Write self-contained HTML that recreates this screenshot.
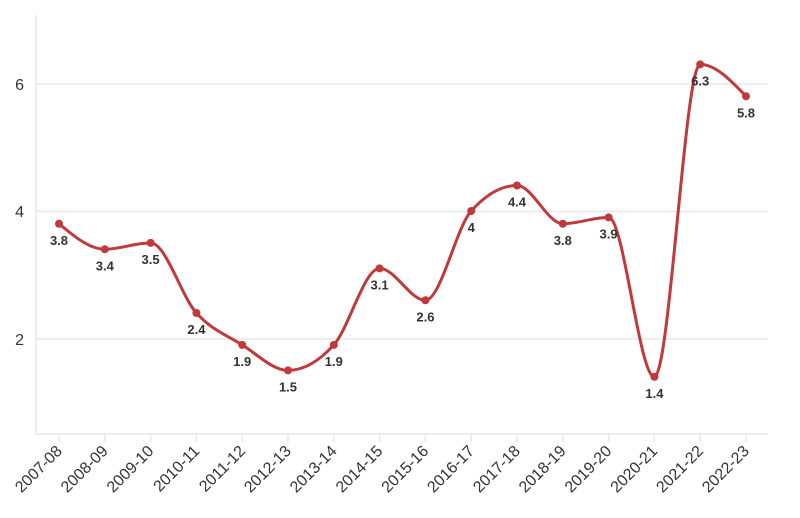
<!DOCTYPE html>
<html><head><meta charset="utf-8"><style>
html,body{margin:0;padding:0;background:#fff;}
svg{display:block;font-family:"Liberation Sans",sans-serif;}
</style></head><body>
<svg id="s" width="800" height="518" xmlns="http://www.w3.org/2000/svg">
<g stroke="#e8e8e8" stroke-width="1.5">
<line x1="36" y1="84" x2="768" y2="84"/>
<line x1="36" y1="211.5" x2="768" y2="211.5"/>
<line x1="36" y1="339" x2="768" y2="339"/>
<line x1="36" y1="15" x2="36" y2="434"/>
<line x1="36" y1="434" x2="768" y2="434"/>
</g>
<g font-size="16" fill="#333" text-anchor="end">
<text x="24" y="90">6</text>
<text x="24" y="217">4</text>
<text x="24" y="345">2</text>
</g>
<g id="ticks" stroke="#e8e8e8" stroke-width="1.5"></g>
<g id="xl" font-size="16" fill="#333" text-anchor="end"></g>
<path id="line" fill="none" stroke="#c0393b" stroke-width="3"/>
<g id="pts" fill="#c0393b"></g>
<g id="lb" font-size="13" font-weight="bold" fill="#333" text-anchor="middle"></g>
</svg>
<script>
var L=["2007-08","2008-09","2009-10","2010-11","2011-12","2012-13","2013-14","2014-15","2015-16","2016-17","2017-18","2018-19","2019-20","2020-21","2021-22","2022-23"];
var V=[3.8,3.4,3.5,2.4,1.9,1.5,1.9,3.1,2.6,4,4.4,3.8,3.9,1.4,6.3,5.8];
var ns="http://www.w3.org/2000/svg";
function el(t,a,p,txt){var e=document.createElementNS(ns,t);for(var k in a)e.setAttribute(k,a[k]);if(txt!=null)e.textContent=txt;document.getElementById(p).appendChild(e);}
var X=[],Y=[];
for(var i=0;i<16;i++){X.push(59+i*45.8);Y.push(466-V[i]*63.75);}
for(var i=0;i<16;i++){
 el("line",{x1:X[i],y1:434,x2:X[i],y2:442},"ticks");
 el("text",{x:X[i]+4,y:452,transform:"rotate(-45 "+(X[i]+4)+" 452)"},"xl",L[i]);
 el("circle",{cx:X[i],cy:Y[i],r:4},"pts");
 el("text",{x:X[i],y:Y[i]+21},"lb",String(V[i]));
}
function sg(x){return x<0?-1:1;}
var n=16,T=[];
for(var i=1;i<n-1;i++){
 var h0=X[i]-X[i-1],h1=X[i+1]-X[i],s0=(Y[i]-Y[i-1])/h0,s1=(Y[i+1]-Y[i])/h1,p=(s0*h1+s1*h0)/(h0+h1);
 T[i]=(sg(s0)+sg(s1))*Math.min(Math.abs(s0),Math.abs(s1),0.5*Math.abs(p))||0;
}
var h=X[1]-X[0];T[0]=(3*(Y[1]-Y[0])/h-T[1])/2;
T[n-1]=(3*(Y[n-1]-Y[n-2])/h-T[n-2])/2;
var d="M"+X[0]+","+Y[0];
for(var i=0;i<n-1;i++){var dx=(X[i+1]-X[i])/3;
 d+="C"+(X[i]+dx)+","+(Y[i]+dx*T[i])+" "+(X[i+1]-dx)+","+(Y[i+1]-dx*T[i+1])+" "+X[i+1]+","+Y[i+1];}
document.getElementById("line").setAttribute("d",d);
</script>
</body></html>
